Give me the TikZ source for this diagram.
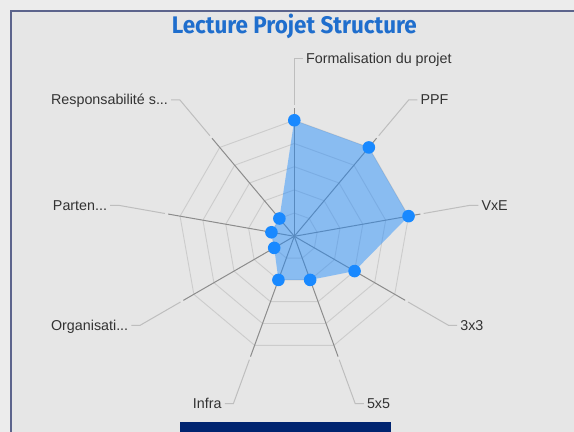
\documentclass[tikz,border=0pt]{standalone}
\usepackage{fontspec}
\usepackage{graphicx}
\setmainfont{Liberation Sans}
\newfontfamily\titlefont{Fira Sans}
\definecolor{bgout}{RGB}{236,236,236}
\definecolor{bgin}{RGB}{230,230,230}
\definecolor{framecol}{RGB}{92,100,140}
\definecolor{titleblue}{RGB}{31,110,205}
\definecolor{dotblue}{RGB}{25,137,255}
\definecolor{ringgray}{RGB}{204,204,204}
\definecolor{spokegray}{RGB}{140,140,140}
\definecolor{leadgray}{RGB}{190,190,190}
\definecolor{labelgray}{RGB}{50,50,50}
\definecolor{navybar}{RGB}{0,36,112}
\newcommand\trunc{.{}.{}.}

\begin{document}
\begin{tikzpicture}[x=23.2pt,y=23.2pt,
    ring/.style={draw=ringgray, line width=0.9pt},
    spoke/.style={draw=spokegray, line width=1pt},
    leader/.style={draw=leadgray, line width=1pt},
    lbl/.style={text=labelgray, font=\fontsize{14.3}{16}\selectfont, inner sep=0pt},
    dot/.style={circle, fill=dotblue, minimum size=12.6pt, inner sep=0pt}]
        % page and frame
        \fill[bgout] (-12.685,-8.435) rectangle (12.056,10.185);
        \useasboundingbox (-12.685,-8.435) rectangle (12.056,10.185);
        \fill[bgin] (-12.211,-9) rectangle (12.5,9.711);
        \draw[draw=framecol, line width=2pt] (-12.211,-9) -- (-12.211,9.711) -- (12.5,9.711);
        \node[text=titleblue, inner sep=0pt, anchor=base] (T) at (0,8.72)
          {\resizebox{245pt}{\height}{\titlefont\bfseries\fontsize{24}{28}\selectfont Lecture Projet Structure}};
        \coordinate (O) at (0,0);
        % grid
        \foreach \r in {1,...,5}
          \draw[ring] (90:\r) \foreach \k in {1,...,8} { -- (90-40*\k:\r) } -- cycle;
        % axes, leaders and labels
        \foreach \a/\lab/\v/\s/\anc [count=\i] in {90/Formalisation du projet/5/1/west,
            50/PPF/5/1/west, 10/VxE/5/1/west, -30/3x3/3/1/west, -70/5x5/2/1/west,
            -110/Infra/2/-1/east, -150/Organisati\trunc/1/-1/east, 170/Parten\trunc/1/-1/east,
            130/Responsabilité s\trunc/1/-1/east} {
          \coordinate (p\i) at (\a:\v);
          \coordinate (s\i) at (\a:5.52);
          \coordinate (l\i) at (\a:5.66);
          \coordinate (e\i) at (\a:7.68);
          \path (e\i) ++(\s*0.37,0) coordinate (h\i);
          \draw[spoke] (O) -- (s\i);
          \draw[leader] (l\i) -- (e\i) -- (h\i);
          \node[lbl, anchor=base \anc] (L\i) at ([xshift=\s*3pt, yshift=-5pt]h\i) {\lab};
        }
        % values
        \fill[dotblue, fill opacity=0.45] (p1) -- (p2) -- (p3) -- (p4) -- (p5) -- (p6) -- (p7) -- (p8) -- (p9) -- cycle;
        \foreach \i in {1,...,9}
          \node[dot] (d\i) at (p\i) {};
        \fill[navybar] (-4.927,-8.004) rectangle (4.168,-9);
      \end{tikzpicture}
\end{document}
